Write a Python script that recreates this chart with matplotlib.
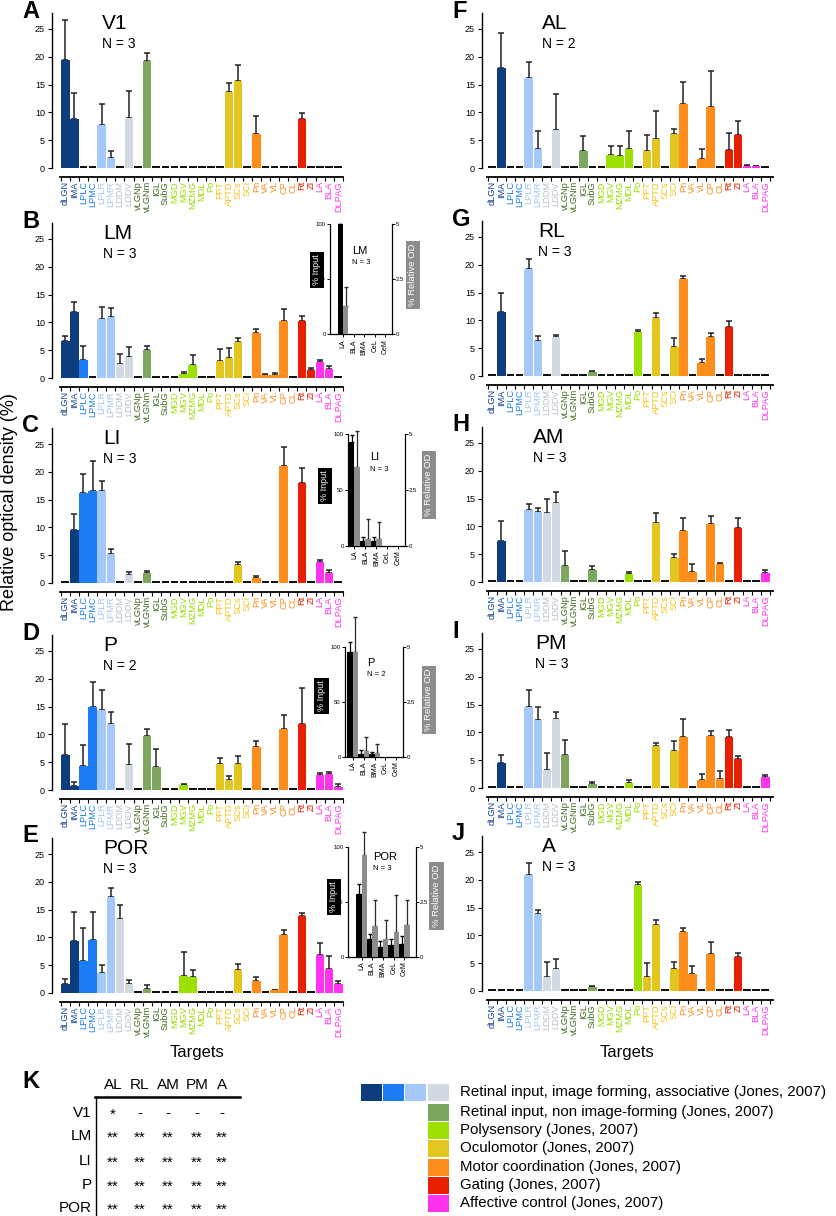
import matplotlib
matplotlib.use("Agg")
import matplotlib.pyplot as plt
from matplotlib import font_manager
import numpy as np

plt.rcParams['font.family'] = ['Liberation Sans', 'DejaVu Sans']
installed = {f.name for f in font_manager.fontManager.ttflist}
narrow = 'Liberation Sans Narrow' if 'Liberation Sans Narrow' in installed else 'Liberation Sans'

# ---- data ----
targets = ['dLGN', 'IMA', 'LPLC', 'LPMC', 'LPLR', 'LPMR', 'LDDM', 'LDDV',
           'vLGNp', 'vLGNm', 'IGL', 'SubG', 'MGD', 'MGV', 'MZMG', 'MDL', 'Po',
           'PPT', 'APTD', 'SCs', 'SCi', 'Pn', 'VA', 'VL', 'CP', 'CL', 'Rt', 'ZI',
           'LA', 'BLA', 'DLPAG']
groups = [0, 0, 1, 1, 2, 2, 3, 3, 4, 4, 4, 4, 5, 5, 5, 5, 5, 6, 6, 6, 6,
          7, 7, 7, 7, 7, 8, 8, 9, 9, 9]
bar_colors = ['#0d3d7c', '#1a7df5', '#a4c8f7', '#d1d9e3', '#7da65f',
              '#9be000', '#e2c51f', '#ff8d1c', '#e81f00', '#ff33ee']
label_colors = ['#12418a', '#1a7df5', '#a4c8f7', '#b9c1ca', '#3d6b1f',
                '#99dd00', '#f0c419', '#ff8d1c', '#e81f00', '#ff33ee']

# mean and error (upper) per target, one list per area
v1_mean = [19.5, 8.9, 0, 0, 7.8, 1.8, 0, 9.05, 0, 19.2, 0, 0, 0, 0, 0, 0, 0,
           0, 13.6, 15.6, 0, 6.2, 0, 0, 0, 0, 8.8, 0, 0, 0, 0]
v1_err = [7.2, 4.5, 0, 0, 3.7, 1.3, 0, 4.75, 0, 1.5, 0, 0, 0, 0, 0, 0, 0,
          0, 1.6, 3.0, 0, 3.2, 0, 0, 0, 0, 1.1, 0, 0, 0, 0]
lm_mean = [6.6, 11.8, 3.3, 0, 10.65, 11.05, 2.5, 3.7, 0, 5.0, 0, 0, 0, 0.8, 2.3, 0, 0,
           3.0, 3.65, 6.5, 0, 8.1, 0.55, 0.6, 10.3, 0, 10.3, 1.5, 2.9, 1.6, 0]
lm_err = [1.0, 1.8, 2.5, 0, 2.05, 1.5, 1.9, 1.9, 0, 0.7, 0, 0, 0, 0.3, 1.8, 0, 0,
          2.3, 1.75, 0.7, 0, 0.7, 0.15, 0.3, 2.1, 0, 0.8, 0.3, 0.3, 0.5, 0]
li_mean = [0, 9.5, 16.1, 16.6, 16.6, 5.3, 0, 1.45, 0, 1.8, 0, 0, 0, 0, 0, 0, 0,
           0, 0, 3.2, 0, 0.9, 0, 0, 21.0, 0, 17.9, 0, 3.8, 1.8, 0]
li_err = [0, 3.0, 3.5, 5.4, 1.8, 0.9, 0, 0.45, 0, 0.4, 0, 0, 0, 0, 0, 0, 0,
          0, 0, 0.5, 0, 0.4, 0, 0, 3.4, 0, 2.8, 0, 0.4, 0.5, 0]
p_mean = [6.25, 0.8, 4.35, 15.0, 14.3, 11.9, 0, 4.5, 0, 9.7, 4.1, 0, 0, 0.9, 0, 0, 0,
          4.75, 1.8, 4.65, 0, 7.75, 0, 0, 10.9, 0, 11.8, 0, 2.75, 2.85, 0.6]
p_err = [5.65, 0.7, 3.8, 4.5, 3.7, 2.1, 0, 3.8, 0, 1.25, 3.35, 0, 0, 0.15, 0, 0, 0,
         1.05, 0.75, 1.4, 0, 1.05, 0, 0, 2.5, 0, 6.55, 0, 0.35, 0.4, 0.45]
por_mean = [1.7, 9.3, 5.75, 9.55, 3.65, 17.2, 13.3, 1.7, 0, 0.7, 0, 0, 0, 3.05, 2.9, 0, 0,
            0, 0, 4.2, 0, 2.1, 0, 0.45, 10.35, 0, 13.8, 0, 6.9, 4.35, 1.55]
por_err = [0.9, 5.2, 5.95, 5.1, 1.45, 1.7, 2.55, 0.7, 0, 0.7, 0, 0, 0, 4.4, 1.15, 0, 0,
           0, 0, 0.95, 0, 0.8, 0, 0.15, 0.9, 0, 0.55, 0, 2.1, 2.25, 0.6]
al_mean = [0, 18.0, 0, 0, 16.15, 3.35, 0, 6.75, 0, 0, 3.0, 0, 0, 2.25, 2.1, 3.45, 0,
           3.0, 5.25, 0, 6.05, 11.55, 0, 1.65, 11.05, 0, 3.3, 6.0, 0.35, 0.3, 0]
al_err = [0, 6.3, 0, 0, 2.85, 3.25, 0, 6.55, 0, 0, 2.8, 0, 0, 1.75, 1.9, 3.2, 0,
          2.85, 4.95, 0, 1.0, 4.0, 0, 1.8, 6.35, 0, 3.0, 2.5, 0.1, 0.1, 0]
rl_mean = [0, 11.55, 0, 0, 19.2, 6.35, 0, 7.05, 0, 0, 0, 0.65, 0, 0, 0, 0, 7.85,
           0, 10.5, 0, 5.15, 17.4, 0, 2.3, 6.95, 0, 8.75, 0, 0, 0, 0]
rl_err = [0, 3.45, 0, 0, 1.8, 0.9, 0, 0.35, 0, 0, 0, 0.25, 0, 0, 0, 0, 0.5,
          0, 0.75, 0, 1.6, 0.55, 0, 0.7, 0.7, 0, 1.15, 0, 0, 0, 0]
am_mean = [0, 7.35, 0, 0, 12.95, 12.55, 12.35, 14.15, 2.9, 0, 0, 2.1, 0, 0, 0, 1.4, 0,
           0, 10.7, 0, 4.35, 9.15, 1.8, 0, 10.4, 3.2, 0, 9.75, 0, 0, 1.65]
am_err = [0, 3.6, 0, 0, 1.0, 0.7, 2.55, 2.0, 2.65, 0, 0, 0.8, 0, 0, 0, 0.4, 0,
          0, 1.75, 0, 0.65, 2.3, 1.5, 0, 1.4, 0.3, 0, 1.7, 0, 0, 0.45]
pm_mean = [0, 4.55, 0, 0, 14.5, 12.3, 3.3, 12.5, 5.9, 0, 0, 0.65, 0, 0, 0, 0.9, 0,
           0, 7.5, 0, 6.65, 9.15, 0, 1.4, 9.3, 1.7, 9.15, 5.3, 0, 0, 2.0]
pm_err = [0, 1.35, 0, 0, 3.1, 2.3, 3.05, 1.2, 2.8, 0, 0, 0.45, 0, 0, 0, 0.6, 0,
          0, 0.6, 0, 1.8, 3.35, 0, 1.2, 1.0, 1.35, 1.25, 0.4, 0, 0, 0.3]
a_mean = [0, 0, 0, 0, 20.95, 13.8, 2.6, 3.9, 0, 0, 0, 0.65, 0, 0, 0, 0, 19.1,
          2.45, 11.9, 0, 3.95, 10.6, 3.05, 0, 6.65, 0, 0, 6.2, 0, 0, 0]
a_err = [0, 0, 0, 0, 2.05, 0.7, 2.55, 1.8, 0, 0, 0, 0.2, 0, 0, 0, 0, 0.5,
         2.55, 0.9, 0, 1.2, 0.8, 1.45, 0, 2.25, 0, 0, 0.7, 0, 0, 0]

# amygdala insets: % input (black, left axis) and % relative OD (gray, right axis)
amyg = ['LA', 'BLA', 'BMA', 'CeL', 'CeM']
lm_in, lm_in_err = [100, 0, 0, 0, 0], [0, 0, 0, 0, 0]
lm_od, lm_od_err = [1.3, 0, 0, 0, 0], [0.85, 0, 0, 0, 0]
li_in, li_in_err = [93.4, 4.2, 4.5, 0, 0], [6, 3.8, 3.5, 0, 0]
li_od, li_od_err = [3.55, 0.28, 0.28, 0, 0], [1.6, 0.92, 0.77, 0, 0]
p_in, p_in_err = [94.8, 2.4, 2.1, 0, 0], [9.2, 3.6, 2.4, 0, 0]
p_od, p_od_err = [4.74, 0.27, 0.15, 0, 0], [1.62, 0.61, 0.45, 0, 0]
por_in, por_in_err = [56.7, 16, 9, 10.6, 11.5], [9.3, 5, 5.5, 5.2, 7.3]
por_od, por_od_err = [4.62, 1.4, 0.79, 1.14, 1.44], [1.06, 1.18, 0.88, 1.66, 1.16]

table_cols = ['AL', 'RL', 'AM', 'PM', 'A']
table_rows = ['V1', 'LM', 'LI', 'P', 'POR']
table_cells = [['*', '-', '-', '-', '-'],
               ['**'] * 5, ['**'] * 5, ['**'] * 5, ['**'] * 5]
legend_labels = ['Retinal input, image forming, associative (Jones, 2007)',
                 'Retinal input, non image-forming (Jones, 2007)',
                 'Polysensory (Jones, 2007)',
                 'Oculomotor (Jones, 2007)',
                 'Motor coordination (Jones, 2007)',
                 'Gating (Jones, 2007)',
                 'Affective control (Jones, 2007)']

# ---- figure ----
W, H = 837, 1216
fig = plt.figure(figsize=(W / 100, H / 100), dpi=100)
PPU = 139 / 25.0   # pixels per % unit in the bar panels
XPU = 9.1          # pixels per target


def add_px(x0, x1, ytop, ybot):
    return fig.add_axes([x0 / W, 1 - ybot / H, (x1 - x0) / W, (ybot - ytop) / H])


def bar_panel(letter, name, n, mean, err, x0, zero, xmin, title_off):
    ytop = zero - 27.9 * PPU
    ybot = zero + 1.62 * PPU
    ax = add_px(x0, x0 + 291, ytop, ybot)
    ax.set_xlim(xmin, xmin + 291 / XPU)
    ax.set_ylim(-1.62, 27.9)
    x = np.arange(len(targets))
    mean = np.array(mean, float)
    err = np.array(err, float)
    pos = mean > 0
    cols = [bar_colors[groups[i]] for i in x[pos]]
    ax.bar(x[pos], mean[pos], width=0.93, color=cols, zorder=2)
    ax.bar(x[~pos], 0.35, width=0.85, color='#111111', zorder=2)
    ax.errorbar(x[pos], mean[pos], yerr=[np.zeros(pos.sum()), err[pos]], fmt='none',
                ecolor='#222222', elinewidth=1.1, capsize=2.2, capthick=1.1, zorder=1)
    for s in ['top', 'right']:
        ax.spines[s].set_visible(False)
    ax.spines['left'].set_bounds(0, 27.9)
    ax.spines['bottom'].set_bounds(-0.6, xmin + 291 / XPU)
    ax.spines['left'].set_linewidth(1.0)
    ax.spines['bottom'].set_linewidth(1.3)
    ax.set_yticks([0, 5, 10, 15, 20, 25])
    ax.tick_params(axis='y', labelsize=6.5, length=3, width=0.8, pad=2)
    ax.set_xticks(x)
    ax.set_xticklabels(targets, rotation=90)
    ax.set_xticks(np.arange(-0.5, 31, 1), minor=True)
    ax.tick_params(axis='x', which='major', length=0, pad=3, labelsize=6.7)
    ax.tick_params(axis='x', which='minor', length=3, width=0.8)
    for lab, g in zip(ax.get_xticklabels(), groups):
        lab.set_color(label_colors[g])
    tx = xmin + title_off / XPU
    ax.text(tx, 26.0, name, fontsize=15, va='center', ha='left')
    ax.text(tx, 22.3, 'N = %d' % n, fontsize=10, va='center', ha='left')
    lx = 22 if x0 < 400 else 452
    fig.text(lx / W, 1 - (zero - 157) / H, letter, fontsize=17, weight='bold',
             ha='left', va='center')
    return ax


def inset(name, n, blk, blk_err, gry, gry_err, x0, x1, y100, y0, xlim,
          in_box, od_box, title_xy):
    ax = add_px(x0, x1, y100, y0)
    ax.set_xlim(*xlim)
    ax.set_ylim(0, 100)
    ax.patch.set_alpha(0)
    ax2 = ax.twinx()
    ax2.set_ylim(0, 5)
    x = np.arange(len(amyg))
    blk = np.array(blk, float)
    gry = np.array(gry, float)
    bp = blk > 0
    gp = gry > 0
    ax.bar(x[bp] - 0.25, blk[bp], width=0.5, color='black', zorder=2)
    ax.errorbar(x[bp] - 0.25, blk[bp], yerr=[np.zeros(bp.sum()), np.array(blk_err)[bp]],
                fmt='none', ecolor='black', elinewidth=0.9, capsize=1.5, clip_on=False, zorder=1)
    ax2.bar(x[gp] + 0.25, gry[gp], width=0.5, color='#8c8c8c', zorder=2)
    eb = ax2.errorbar(x[gp] + 0.25, gry[gp], yerr=[np.zeros(gp.sum()), np.array(gry_err)[gp]],
                      fmt='none', ecolor='#2a2a2a', elinewidth=0.9, capsize=1.5, zorder=1)
    for art in eb.lines[1] + eb.lines[2]:
        art.set_clip_on(False)
    for a in (ax, ax2):
        a.spines['top'].set_visible(False)
        for s in a.spines.values():
            s.set_linewidth(0.9)
    ax.spines['right'].set_visible(False)
    ax2.spines['left'].set_visible(False)
    ax2.spines['bottom'].set_visible(False)
    ax.set_yticks([0, 50, 100])
    ax.tick_params(axis='y', labelsize=4.3, length=2, width=0.7, pad=1)
    ax2.set_yticks([0, 2.5, 5])
    ax2.set_yticklabels(['0', '2.5', '5'])
    ax2.tick_params(axis='y', labelsize=4.3, length=2, width=0.7, pad=1)
    ax.set_xticks(x)
    ax.set_xticklabels(amyg, rotation=90)
    ax.tick_params(axis='x', labelsize=5, length=2, width=0.7, pad=1.5)
    fig.text(in_box[0] / W, 1 - in_box[1] / H, '% Input', rotation=90, color='white',
             fontsize=6.5, ha='center', va='center',
             bbox=dict(boxstyle='square,pad=0.3', fc='black', ec='none'))
    fig.text(od_box[0] / W, 1 - od_box[1] / H, '% Relative OD', rotation=90, color='white',
             fontsize=6.8, ha='center', va='center',
             bbox=dict(boxstyle='square,pad=0.3', fc='#8c8c8c', ec='none'))
    fig.text(title_xy[0] / W, 1 - title_xy[1] / H, name, fontsize=8, ha='left', va='center')
    fig.text(title_xy[0] / W, 1 - (title_xy[1] + 12) / H, 'N = %d' % n, fontsize=5.5,
             ha='left', va='center')


LX, RX = 52, 482
LXMIN, RXMIN = -1.46, -1.13
bar_panel('A', 'V1', 3, v1_mean, v1_err, LX, 168, LXMIN, 50)
bar_panel('B', 'LM', 3, lm_mean, lm_err, LX, 378, LXMIN, 51)
bar_panel('C', 'LI', 3, li_mean, li_err, LX, 583, LXMIN, 51)
bar_panel('D', 'P', 2, p_mean, p_err, LX, 790, LXMIN, 51)
bar_panel('E', 'POR', 3, por_mean, por_err, LX, 993, LXMIN, 51)
bar_panel('F', 'AL', 2, al_mean, al_err, RX, 168, RXMIN, 60)
bar_panel('G', 'RL', 3, rl_mean, rl_err, RX, 376, RXMIN, 56)
bar_panel('H', 'AM', 3, am_mean, am_err, RX, 582, RXMIN, 51)
bar_panel('I', 'PM', 3, pm_mean, pm_err, RX, 788, RXMIN, 53)
bar_panel('J', 'A', 3, a_mean, a_err, RX, 991, RXMIN, 60)

inset('LM', 3, lm_in, lm_in_err, lm_od, lm_od_err, 330, 392, 224, 334.3, (-1.23, 4.62),
      (317, 270), (413, 275), (352, 251))
inset('LI', 3, li_in, li_in_err, li_od, li_od_err, 348, 405, 434.3, 545.7, (-0.58, 4.6),
      (325, 486), (429, 485), (370, 457))
inset('P', 2, p_in, p_in_err, p_od, p_od_err, 345, 403, 646.7, 756.7, (-0.7, 4.6),
      (321.5, 696), (429, 700), (367, 663))
inset('POR', 3, por_in, por_in_err, por_od, por_od_err, 348, 416, 846.7, 956.7, (-1.29, 5.1),
      (334, 897), (436.5, 896), (373, 857))

fig.text(10 / W, 1 - 502 / H, 'Relative optical density (%)', rotation=90, fontsize=13,
         ha='center', va='center')
fig.text(197 / W, 1 - 1053 / H, 'Targets', fontsize=12, ha='center', va='center')
fig.text(627 / W, 1 - 1053 / H, 'Targets', fontsize=12, ha='center', va='center')

# ---- K table and colour legend, drawn in pixel coordinates ----
ov = fig.add_axes([0, 0, 1, 1])
ov.set_xlim(0, W)
ov.set_ylim(H, 0)
ov.axis('off')
ov.text(22, 1082, 'K', fontsize=17, weight='bold', ha='left', va='center')
col_x = [113, 140, 168, 197, 222]
row_y = [1113, 1136, 1161, 1185, 1208]
for cx, c in zip(col_x, table_cols):
    ov.text(cx, 1085, c, fontsize=11, family=narrow, ha='center', va='center')
ov.plot([95, 240], [1097, 1097], color='black', lw=1.8)
ov.plot([96, 96], [1097, 1216], color='black', lw=1)
for ry, r, cells in zip(row_y, table_rows, table_cells):
    ov.text(92, ry, r, fontsize=11, family=narrow, ha='right', va='center')
    for cx, s in zip(col_x, cells):
        ov.text(cx, ry + (2 if s != '-' else 0), s, fontsize=11, family=narrow,
                ha='center', va='center')

leg_y = [1092, 1112, 1130, 1148, 1167, 1185, 1203]
sq_x = [361, 383, 405, 428]
for i in range(4):
    ov.add_patch(plt.Rectangle((sq_x[i], leg_y[0] - 8.5), 21, 17, color=bar_colors[i], lw=0))
for yy, g in zip(leg_y[1:], [4, 5, 6, 7, 8, 9]):
    ov.add_patch(plt.Rectangle((428, yy - 8.5), 21, 17, color=bar_colors[g], lw=0))
for yy, lab in zip(leg_y, legend_labels):
    ov.text(460, yy, lab, fontsize=10.8, family=narrow, ha='left', va='center')

fig.savefig('out.png', dpi=100)
